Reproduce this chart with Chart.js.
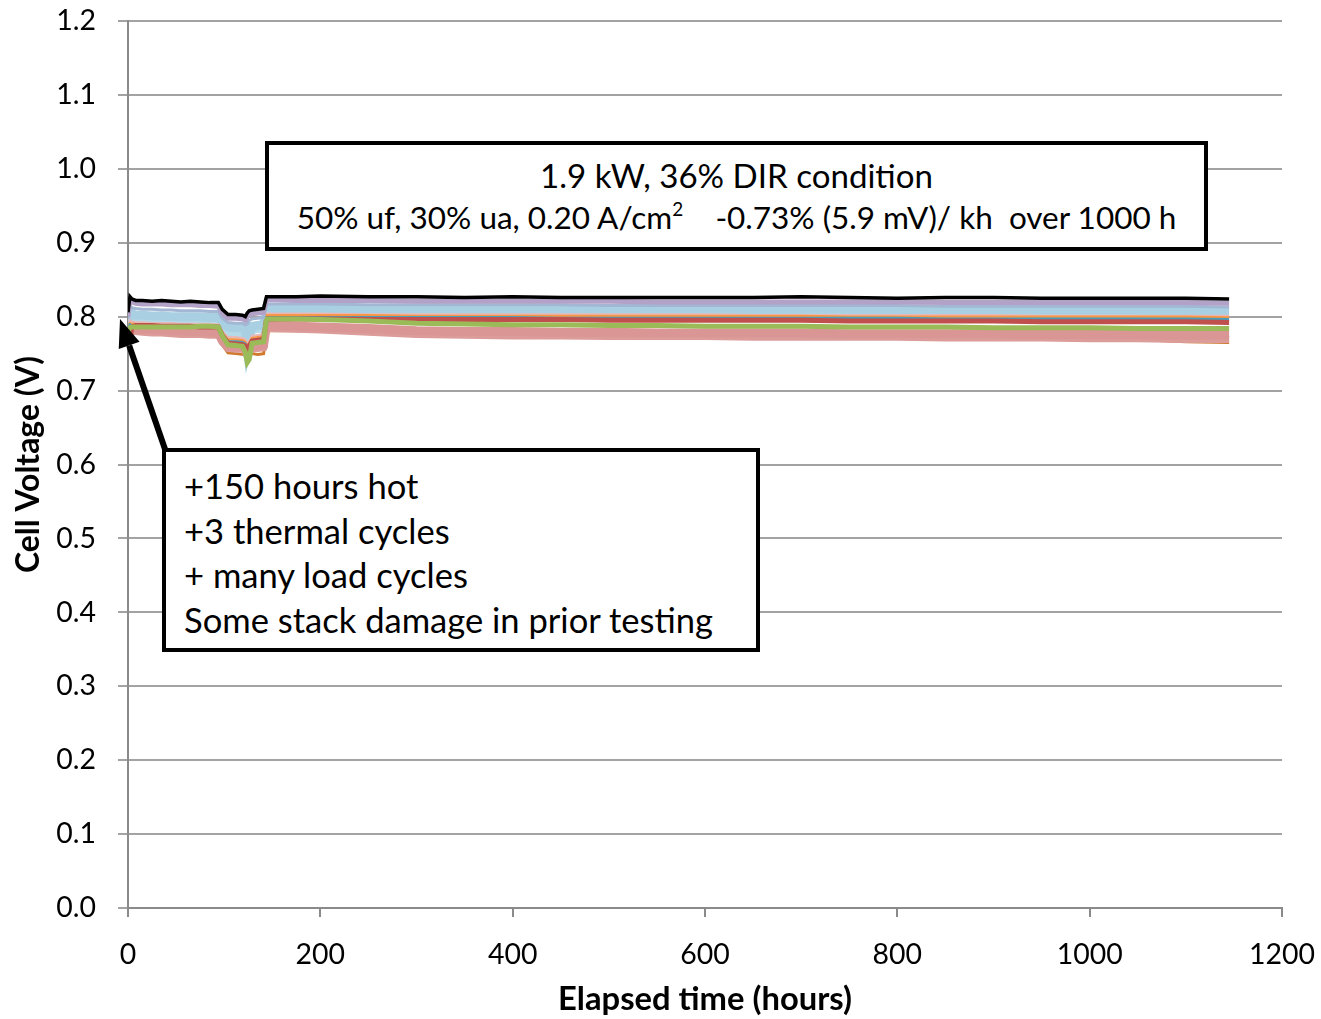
<!DOCTYPE html>
<html>
<head>
<meta charset="utf-8">
<script src="https://cdn.jsdelivr.net/npm/chart.js@4.4.1/dist/chart.umd.min.js"></script>
<style>
  html, body { margin: 0; padding: 0; background: #ffffff; }
  #wrap { position: relative; width: 1321px; height: 1019px; overflow: hidden; }
  #c { position: absolute; left: 0; top: 0; }
  .box { position: absolute; box-sizing: border-box; border: 4px solid #000; background: #fff;
         font-family: Lato, "Open Sans", sans-serif; color: #000; white-space: nowrap; }
  #box1 { left: 265px; top: 141px; width: 943px; height: 110px; text-align: center; padding-top: 9px; line-height: 42px; }
  #box2 { left: 162px; top: 448px; width: 598px; height: 204px; text-align: left; padding-left: 18px; padding-top: 12px; line-height: 44.5px; }
  sup { font-size: 0.6em; line-height: 0; position: relative; top: -0.1em; vertical-align: super; }
</style>
</head>
<body>
<div id="wrap">
  <canvas id="c" width="1321" height="1019"></canvas>
  <div class="box" id="box1">
    <div id="b1l1">1.9 kW, 36% DIR condition</div>
    <div id="b1l2">50% uf, 30% ua, 0.20 A/cm<sup>2</sup>&nbsp;&nbsp;&nbsp; -0.73% (5.9 mV)/ kh&nbsp; over 1000 h</div>
  </div>
  <div class="box" id="box2">
    <div>+150 hours hot</div>
    <div>+3 thermal cycles</div>
    <div>+ many load cycles</div>
    <div id="b2l4">Some stack damage in prior testing</div>
  </div>
</div>
<script>
// ---------------- DATA ----------------
const hours = [0, 2, 4, 8, 15, 25, 35, 45, 55, 65, 75, 85,
  94, 98, 104, 112, 119, 122, 124, 126, 129, 135, 141, 144,
  150, 175, 200, 250, 300, 350, 400, 450, 500, 550, 600, 650, 700, 750, 800, 850, 900, 950, 1000, 1050, 1100, 1145];

const xTicks = [0, 200, 400, 600, 800, 1000, 1200];
const yTicks = [0.0, 0.1, 0.2, 0.3, 0.4, 0.5, 0.6, 0.7, 0.8, 0.9, 1.0, 1.1, 1.2];

const cellBlack = [0.806,0.827,0.824,0.822,0.822,0.821,0.822,0.821,0.820,0.821,0.820,0.819,
  0.819,0.810,0.803,0.803,0.802,0.800,0.805,0.808,0.809,0.810,0.811,0.827,
  0.827,0.827,0.828,0.827,0.827,0.826,0.827,0.826,0.826,0.826,0.826,0.826,0.827,0.826,0.825,0.826,0.826,0.825,0.825,0.825,0.825,0.824];
const cellLavender = [0.800,0.823,0.820,0.818,0.817,0.817,0.817,0.816,0.816,0.816,0.815,0.815,
  0.814,0.805,0.798,0.798,0.797,0.795,0.800,0.803,0.804,0.805,0.806,0.823,
  0.823,0.822,0.822,0.822,0.821,0.821,0.821,0.821,0.821,0.820,0.820,0.820,0.820,0.820,0.820,0.819,0.819,0.819,0.819,0.819,0.819,0.818];
const cellGreyBlue = [0.797,0.816,0.812,0.811,0.810,0.810,0.809,0.809,0.808,0.808,0.808,0.807,
  0.807,0.798,0.792,0.791,0.791,0.789,0.790,0.795,0.797,0.798,0.799,0.817,
  0.817,0.817,0.817,0.816,0.816,0.816,0.816,0.816,0.815,0.815,0.815,0.815,0.815,0.815,0.815,0.814,0.814,0.814,0.814,0.814,0.814,0.813];
const cellLightBlue = [0.795,0.808,0.804,0.802,0.802,0.801,0.801,0.800,0.800,0.800,0.800,0.799,
  0.799,0.792,0.786,0.785,0.785,0.783,0.760,0.772,0.787,0.788,0.789,0.811,
  0.811,0.811,0.811,0.811,0.811,0.810,0.810,0.810,0.810,0.810,0.810,0.810,0.810,0.810,0.809,0.809,0.809,0.809,0.809,0.809,0.808,0.808];
const cellPaleBlue = [0.790,0.800,0.798,0.797,0.796,0.796,0.796,0.795,0.795,0.795,0.795,0.794,
  0.794,0.785,0.777,0.776,0.776,0.774,0.752,0.765,0.781,0.782,0.783,0.807,
  0.807,0.807,0.807,0.806,0.806,0.806,0.806,0.806,0.806,0.806,0.805,0.805,0.805,0.805,0.805,0.805,0.805,0.805,0.804,0.804,0.804,0.804];
const cellPalePink = [0.785,0.795,0.793,0.792,0.792,0.791,0.791,0.791,0.790,0.790,0.790,0.790,
  0.789,0.780,0.772,0.772,0.771,0.769,0.762,0.766,0.774,0.775,0.776,0.804,
  0.804,0.804,0.804,0.803,0.803,0.803,0.803,0.803,0.803,0.803,0.803,0.802,0.802,0.802,0.802,0.802,0.802,0.801,0.801,0.801,0.801,0.801];
const cellOrange = [0.782,0.791,0.790,0.790,0.789,0.789,0.788,0.788,0.788,0.787,0.787,0.787,
  0.786,0.777,0.769,0.769,0.768,0.766,0.760,0.764,0.771,0.772,0.773,0.802,
  0.802,0.802,0.802,0.802,0.801,0.801,0.801,0.801,0.801,0.801,0.801,0.801,0.801,0.800,0.800,0.800,0.800,0.800,0.800,0.800,0.800,0.799];
const cellTeal = [0.780,0.789,0.788,0.788,0.788,0.787,0.787,0.787,0.786,0.786,0.786,0.786,
  0.785,0.775,0.766,0.766,0.765,0.763,0.758,0.761,0.768,0.769,0.770,0.799,
  0.799,0.799,0.799,0.799,0.799,0.799,0.799,0.798,0.798,0.798,0.798,0.798,0.798,0.798,0.798,0.797,0.797,0.797,0.797,0.797,0.797,0.796];
const cellRed = [0.766,0.768,0.786,0.788,0.788,0.788,0.787,0.787,0.787,0.787,0.786,0.786,
  0.786,0.775,0.764,0.763,0.762,0.760,0.755,0.760,0.767,0.768,0.769,0.797,
  0.797,0.797,0.797,0.796,0.796,0.796,0.796,0.796,0.795,0.795,0.795,0.795,0.795,0.794,0.794,0.794,0.794,0.793,0.793,0.793,0.793,0.792];
const cellGreen = [0.780,0.785,0.786,0.786,0.786,0.786,0.786,0.786,0.786,0.786,0.787,0.787,
  0.786,0.774,0.762,0.761,0.760,0.752,0.738,0.742,0.764,0.765,0.766,0.797,
  0.797,0.797,0.796,0.794,0.791,0.790,0.789,0.789,0.788,0.788,0.787,0.787,0.787,0.786,0.786,0.786,0.785,0.785,0.785,0.784,0.784,0.784];
const cellPink = [0.775,0.782,0.785,0.784,0.783,0.783,0.782,0.781,0.781,0.780,0.780,0.779,
  0.779,0.768,0.760,0.759,0.759,0.757,0.750,0.755,0.760,0.761,0.762,0.788,
  0.788,0.787,0.786,0.784,0.781,0.780,0.780,0.779,0.779,0.778,0.778,0.778,0.778,0.777,0.777,0.777,0.777,0.776,0.776,0.776,0.775,0.775];
const cellRose = [0.770,0.776,0.780,0.780,0.779,0.778,0.778,0.777,0.776,0.776,0.776,0.775,
  0.775,0.765,0.757,0.756,0.756,0.754,0.748,0.752,0.757,0.757,0.758,0.784,
  0.784,0.783,0.782,0.779,0.776,0.775,0.774,0.774,0.773,0.773,0.773,0.772,0.772,0.772,0.772,0.771,0.771,0.771,0.770,0.770,0.769,0.769];
const cellDarkOrange = [0.772,0.778,0.782,0.782,0.781,0.781,0.780,0.780,0.779,0.778,0.778,0.778,
  0.777,0.762,0.751,0.750,0.749,0.748,0.747,0.748,0.750,0.749,0.750,0.781,
  0.781,0.781,0.781,0.778,0.776,0.775,0.774,0.774,0.774,0.774,0.774,0.773,0.773,0.772,0.772,0.771,0.771,0.770,0.770,0.769,0.766,0.765];
const cellPurple = [0.776,0.780,0.782,0.781,0.780,0.780,0.779,0.779,0.778,0.778,0.778,0.777,
  0.777,0.766,0.758,0.757,0.757,0.755,0.750,0.757,0.763,0.763,0.764,0.782,
  0.782,0.781,0.781,0.779,0.777,0.776,0.776,0.775,0.775,0.775,0.775,0.774,0.774,0.774,0.774,0.774,0.774,0.773,0.773,0.773,0.773,0.773];

// drawing order: first listed is drawn on top
const seriesList = [
  { name: 'Cell A', values: cellBlack,      color: '#000000', width: 3.5 },
  { name: 'Cell B', values: cellLavender,   color: '#B3A2C7', width: 5 },
  { name: 'Cell C', values: cellGreyBlue,   color: '#A3B6D3', width: 3 },
  { name: 'Cell D', values: cellGreen,      color: '#9BBB59', width: 5 },
  { name: 'Cell E', values: cellRed,        color: '#C0504D', width: 5 },
  { name: 'Cell F', values: cellTeal,       color: '#4A9BB5', width: 3 },
  { name: 'Cell G', values: cellOrange,     color: '#F79646', width: 2.5 },
  { name: 'Cell H', values: cellPalePink,   color: '#E6B9B8', width: 2.5 },
  { name: 'Cell I', values: cellLightBlue,  color: '#A9D0E2', width: 9 },
  { name: 'Cell J', values: cellPaleBlue,   color: '#B4DAE7', width: 6 },
  { name: 'Cell K', values: cellPink,       color: '#D99694', width: 9 },
  { name: 'Cell L', values: cellRose,       color: '#DC9C9A', width: 7 },
  { name: 'Cell M', values: cellDarkOrange, color: '#D07A2E', width: 3 },
  { name: 'Cell N', values: cellPurple,     color: '#604A7B', width: 2 }
];

// ---------------- FONT FITTING ----------------
const FAMILY = 'Lato, "Open Sans", sans-serif';
const mctx = document.createElement('canvas').getContext('2d');
function fitSize(text, target, weight) {
  mctx.font = weight + ' 100px ' + FAMILY;
  return 100 * target / mctx.measureText(text).width;
}
const tickSize = fitSize('1200', 66, 'normal');
const xTitleSize = fitSize('Elapsed time (hours)', 294, 'bold');
const yTitleSize = fitSize('Cell Voltage (V)', 217, 'bold');
const box1Size = fitSize('1.9 kW, 36% DIR condition', 393, 'normal');
const box2Size = fitSize('Some stack damage in prior testing', 530, 'normal');
document.getElementById('box1').style.fontSize = box1Size + 'px';
document.getElementById('box2').style.fontSize = box2Size + 'px';
// second line of box 1 is fitted on its own measured width
(function () {
  const l2 = document.getElementById('b1l2');
  l2.style.display = 'inline-block';
  const w = l2.getBoundingClientRect().width;
  l2.style.fontSize = (box1Size * 880 / w) + 'px';
  l2.style.display = 'block';
})();

// ---------------- ARROW ----------------
const arrowPlugin = {
  id: 'arrow',
  afterDraw(chart) {
    const c = chart.ctx;
    const x0 = 166, y0 = 452, x1 = 120, y1 = 319;
    const ang = Math.atan2(y1 - y0, x1 - x0);
    const hl = 28, hw = 11;
    const bx = x1 - hl * Math.cos(ang), by = y1 - hl * Math.sin(ang);
    c.save();
    c.strokeStyle = '#000'; c.fillStyle = '#000'; c.lineWidth = 6;
    c.beginPath(); c.moveTo(x0, y0); c.lineTo(bx, by); c.stroke();
    c.beginPath();
    c.moveTo(x1, y1);
    c.lineTo(bx + hw * Math.sin(ang), by - hw * Math.cos(ang));
    c.lineTo(bx - hw * Math.sin(ang), by + hw * Math.cos(ang));
    c.closePath(); c.fill();
    c.restore();
  }
};

// ---------------- CHART ----------------
const datasets = seriesList.map(s => ({
  label: s.name,
  data: hours.map((h, i) => ({ x: h, y: s.values[i] })),
  borderColor: s.color,
  backgroundColor: s.color,
  borderWidth: s.width,
  pointRadius: 0,
  tension: 0,
  fill: false
}));

new Chart(document.getElementById('c'), {
  type: 'line',
  data: { datasets },
  options: {
    responsive: false,
    animation: false,
    layout: { padding: { left: 0, right: 39, top: 21, bottom: 0 } },
    plugins: { legend: { display: false }, tooltip: { enabled: false } },
    scales: {
      x: {
        type: 'linear', min: 0, max: 1200,
        afterBuildTicks: s => { s.ticks = xTicks.map(v => ({ value: v })); },
        ticks: { font: { family: FAMILY, size: tickSize }, color: '#000', padding: 21, maxRotation: 0, autoSkip: false,
                 callback: v => String(v) },
        grid: { drawOnChartArea: false, drawTicks: true, tickLength: 9, color: '#8a8a8a', lineWidth: 2 },
        border: { color: '#8a8a8a', width: 2 },
        title: { display: true, text: 'Elapsed time (hours)', color: '#000',
                 font: { family: FAMILY, size: xTitleSize, weight: 'bold' }, padding: { top: 4, bottom: 0 } },
        afterFit: s => { s.height = 111; s.paddingLeft = 0; s.paddingRight = 0; }
      },
      y: {
        type: 'linear', min: 0, max: 1.2,
        afterBuildTicks: s => { s.ticks = yTicks.map(v => ({ value: v })); },
        ticks: { font: { family: FAMILY, size: tickSize }, color: '#000', padding: 22,
                 callback: v => Number(v).toFixed(1), autoSkip: false },
        grid: { color: '#a3a3a3', lineWidth: 2, tickLength: 10 },
        border: { color: '#8a8a8a', width: 2 },
        title: { display: true, text: 'Cell Voltage (V)', color: '#000',
                 font: { family: FAMILY, size: yTitleSize, weight: 'bold' }, padding: { top: 10, bottom: 4 } },
        afterFit: s => { s.width = 128; s.paddingTop = 0; s.paddingBottom = 0; }
      }
    }
  },
  plugins: [arrowPlugin]
});
</script>
</body>
</html>
